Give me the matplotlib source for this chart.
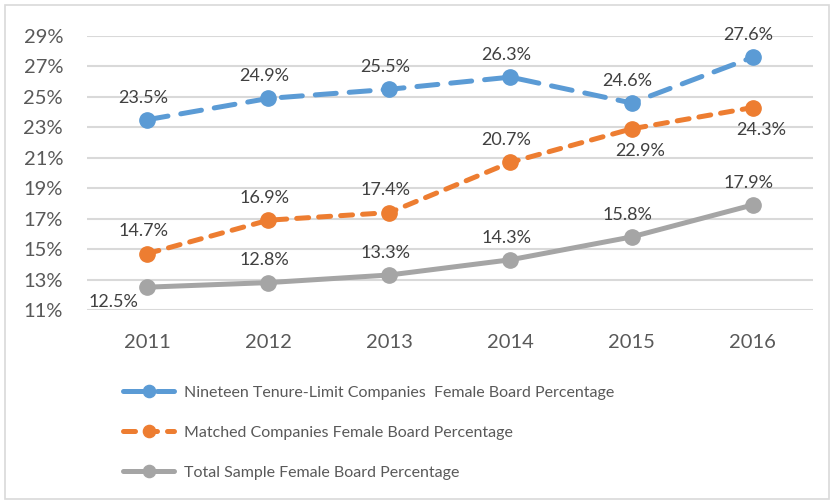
import matplotlib
matplotlib.use("Agg")
import matplotlib.pyplot as plt
from matplotlib.patches import Rectangle

# data
years = ["2011", "2012", "2013", "2014", "2015", "2016"]
tenure_limit = [23.5, 24.9, 25.5, 26.3, 24.6, 27.6]
matched = [14.7, 16.9, 17.4, 20.7, 22.9, 24.3]
total_sample = [12.5, 12.8, 13.3, 14.3, 15.8, 17.9]

labels = [
    "Nineteen Tenure-Limit Companies  Female Board Percentage",
    "Matched Companies Female Board Percentage",
    "Total Sample Female Board Percentage",
]
yticks = list(range(11, 30, 2))

plt.rcParams["font.family"] = ["Lato", "DejaVu Sans"]
TXT = "#404040"
TICK = "#595959"

fig = plt.figure(figsize=(8.34, 5.03), dpi=100)
ax = fig.add_axes([0.104, 0.3837, 0.871, 0.5447])

x = list(range(len(years)))
series = [
    (tenure_limit, "#5B9BD5", (4.2, 2.6), ["above"] * 6),
    (matched, "#ED7D31", (2.4, 2.0), ["above"] * 4 + ["below"] * 2),
    (total_sample, "#A5A5A5", None, ["left"] + ["above"] * 5),
]

handles = []
for vals, color, dash, where in series:
    kw = dict(color=color, lw=3.6, marker="o", ms=11, mec=color, mfc=color,
              solid_capstyle="round", dash_capstyle="round", zorder=3)
    if dash:
        kw["linestyle"] = (0, dash)
    (ln,) = ax.plot(x, vals, **kw)
    handles.append(ln)
    for xi, v, w in zip(x, vals, where):
        if w == "above":
            off = (-3, 16)
        elif w == "below":
            off = (6, -16)
        else:
            off = (-24, -11)
        ax.annotate(f"{v:.1f}%", (xi, v), xytext=off, textcoords="offset points",
                    ha="center", va="center", fontsize=13, color=TXT, zorder=4)

ax.set_xlim(-0.5, len(years) - 0.5)
ax.set_ylim(11, 29)
ax.set_yticks(yticks)
ax.set_yticklabels([f"{t}%" for t in yticks])
ax.set_xticks(x)
ax.set_xticklabels(years)
ax.tick_params(length=0, labelsize=14.5, colors=TICK)
ax.tick_params(axis="y", pad=17)
ax.tick_params(axis="x", pad=17)
ax.grid(axis="y", color="#D9D9D9", lw=1.5)
ax.set_axisbelow(True)
for s in ax.spines.values():
    s.set_visible(False)

leg = fig.legend(handles, labels, loc="upper left", bbox_to_anchor=(0.14, 0.246),
                 frameon=False, fontsize=11.5, labelcolor=TICK, numpoints=1,
                 markerscale=0.8, handlelength=3.2, handletextpad=0.6,
                 labelspacing=1.62, borderaxespad=0)

fig.patches.append(Rectangle((0.006, 0.008), 0.988, 0.982, transform=fig.transFigure,
                             fill=False, ec="#D9D9D9", lw=1.2))

fig.savefig("out.png", dpi=100)
